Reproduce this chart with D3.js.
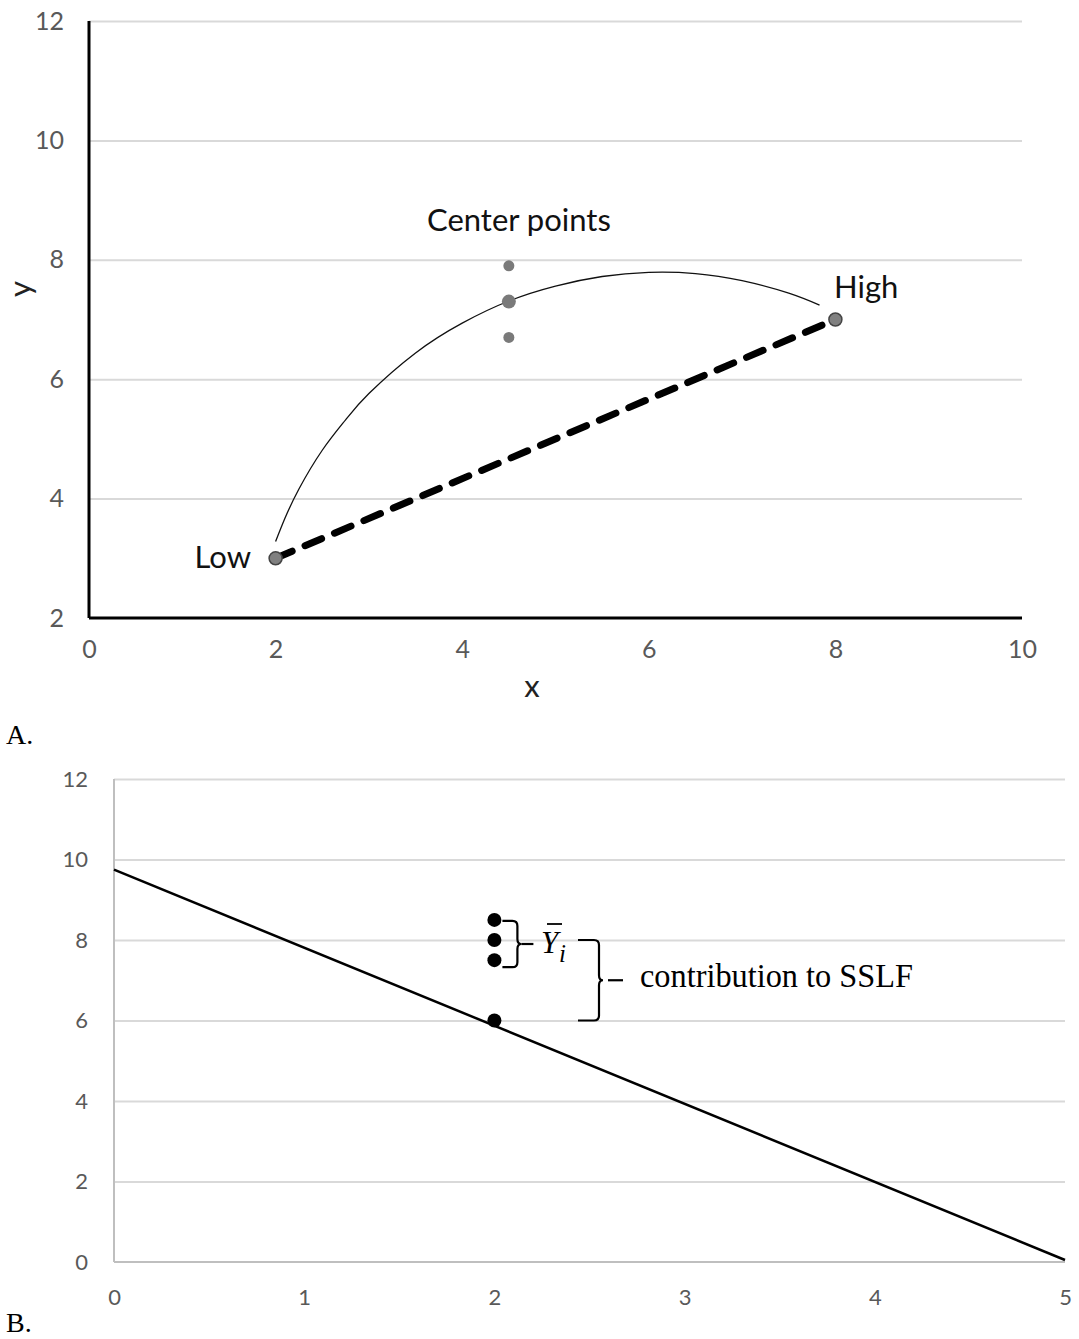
<!DOCTYPE html>
<html>
<head>
<meta charset="utf-8">
<script src="https://cdn.jsdelivr.net/npm/d3@7"></script>
<style>
  body { margin: 0; background: #fff; }
  svg { display: block; }
  .tick text { fill: #595959; font-family: Lato, "Open Sans", sans-serif; }
</style>
</head>
<body>
<svg id="chart" width="1079" height="1339"></svg>
<script>
// ---- panel A data ----
const aXTicks = [0, 2, 4, 6, 8, 10];
const aYTicks = [2, 4, 6, 8, 10, 12];
const aEnds = [{ x: 2, y: 3, label: 'Low' }, { x: 8, y: 7, label: 'High' }];
const aCenterX = 4.5;
const aCenterY = [7.9, 7.3, 6.7];
const aCurve = [[2, 3.28], [2.1, 3.67], [2.25, 4.16], [2.5, 4.81], [2.75, 5.32], [3, 5.76],
  [3.5, 6.44], [4, 6.94], [4.5, 7.31], [5, 7.56], [5.5, 7.72], [6, 7.79], [6.5, 7.77],
  [7, 7.65], [7.5, 7.44], [7.83, 7.24]];

// ---- panel B data ----
const bXTicks = [0, 1, 2, 3, 4, 5];
const bYTicks = [0, 2, 4, 6, 8, 10, 12];
const bPointX = 2;
const bPointY = [8.5, 8.0, 7.5, 6.0];
const bLine = [[0, 9.75], [5, 0.05]];

const svg = d3.select('#chart');
const fmt = d3.format('d');

// ================= panel A =================
const ax = d3.scaleLinear().domain([0, 10]).range([89, 1022]);
const ay = d3.scaleLinear().domain([2, 12]).range([618, 21]);

// gridlines
svg.append('g')
  .attr('transform', 'translate(' + ax(0) + ',0)')
  .call(d3.axisLeft(ay).tickValues(aYTicks.filter(d => d > 2)).tickSize(-(ax(10) - ax(0))).tickFormat(''))
  .call(g => g.select('.domain').remove())
  .call(g => g.selectAll('line').attr('stroke', '#d9d9d9').attr('stroke-width', 2));

// y tick labels
svg.append('g')
  .attr('transform', 'translate(' + ax(0) + ',0)')
  .call(d3.axisLeft(ay).tickValues(aYTicks).tickFormat(fmt).tickSize(0).tickPadding(25))
  .call(g => g.select('.domain').remove())
  .call(g => g.selectAll('text').attr('font-size', 25));

// x tick labels
svg.append('g')
  .attr('transform', 'translate(0,' + ay(2) + ')')
  .call(d3.axisBottom(ax).tickValues(aXTicks).tickFormat(fmt).tickSize(0).tickPadding(22))
  .call(g => g.select('.domain').remove())
  .call(g => g.selectAll('text').attr('font-size', 25));

// axis lines
svg.append('line').attr('x1', ax(0)).attr('x2', ax(0)).attr('y1', ay(12)).attr('y2', ay(2))
  .attr('stroke', '#000').attr('stroke-width', 3);
svg.append('line').attr('x1', ax(0)).attr('x2', ax(10)).attr('y1', ay(2)).attr('y2', ay(2))
  .attr('stroke', '#000').attr('stroke-width', 3);

// axis titles
svg.append('text').attr('x', 532).attr('y', 697).attr('text-anchor', 'middle')
  .attr('font-family', 'Lato, sans-serif').attr('font-size', 31).attr('fill', '#222').text('x');
svg.append('text').attr('transform', 'translate(31,289) rotate(-90)').attr('text-anchor', 'middle')
  .attr('font-family', 'Lato, sans-serif').attr('font-size', 31).attr('fill', '#222').text('y');

// curved line
svg.append('path')
  .datum(aCurve)
  .attr('d', d3.line().x(d => ax(d[0])).y(d => ay(d[1])).curve(d3.curveNatural))
  .attr('fill', 'none').attr('stroke', '#111').attr('stroke-width', 1.3);

// dashed line low -> high
svg.append('path')
  .datum(aEnds)
  .attr('d', d3.line().x(d => ax(d.x)).y(d => ay(d.y)))
  .attr('fill', 'none').attr('stroke', '#000').attr('stroke-width', 7)
  .attr('stroke-dasharray', '18,14').attr('stroke-linecap', 'round');

// end points
svg.selectAll('.endpt').data(aEnds).enter().append('circle')
  .attr('class', 'endpt')
  .attr('cx', d => ax(d.x)).attr('cy', d => ay(d.y)).attr('r', 6.5)
  .attr('fill', '#808080').attr('stroke', '#444').attr('stroke-width', 1.5);

// center points
svg.selectAll('.cpt').data(aCenterY).enter().append('circle')
  .attr('class', 'cpt')
  .attr('cx', ax(aCenterX)).attr('cy', d => ay(d)).attr('r', (d, i) => i === 1 ? 7 : 5.5)
  .attr('fill', '#7a7a7a');

// labels
const aLabelFont = 'Lato, "Open Sans", sans-serif';
svg.append('text').attr('x', 427).attr('y', 231).attr('font-family', aLabelFont)
  .attr('font-size', 31).attr('fill', '#111').text('Center points');
svg.append('text').attr('x', 251).attr('y', 568).attr('text-anchor', 'end').attr('font-family', aLabelFont)
  .attr('font-size', 31).attr('fill', '#111').text(aEnds[0].label);
svg.append('text').attr('x', 834).attr('y', 298).attr('font-family', aLabelFont)
  .attr('font-size', 31).attr('fill', '#111').text(aEnds[1].label);

// panel letters
svg.append('text').attr('x', 6).attr('y', 744).attr('font-family', '"Liberation Serif", serif')
  .attr('font-size', 28).attr('fill', '#000').text('A.');
svg.append('text').attr('x', 6).attr('y', 1332).attr('font-family', '"Liberation Serif", serif')
  .attr('font-size', 28).attr('fill', '#000').text('B.');

// ================= panel B =================
const bx = d3.scaleLinear().domain([0, 5]).range([114, 1065]);
const by = d3.scaleLinear().domain([0, 12]).range([1262, 779]);

svg.append('g')
  .attr('transform', 'translate(' + bx(0) + ',0)')
  .call(d3.axisLeft(by).tickValues(bYTicks.filter(d => d > 0)).tickSize(-(bx(5) - bx(0))).tickFormat(''))
  .call(g => g.select('.domain').remove())
  .call(g => g.selectAll('line').attr('stroke', '#d9d9d9').attr('stroke-width', 2));

svg.append('g')
  .attr('transform', 'translate(' + bx(0) + ',0)')
  .call(d3.axisLeft(by).tickValues(bYTicks).tickFormat(fmt).tickSize(0).tickPadding(26))
  .call(g => g.select('.domain').remove())
  .call(g => g.selectAll('text').attr('font-size', 22));

svg.append('g')
  .attr('transform', 'translate(0,' + by(0) + ')')
  .call(d3.axisBottom(bx).tickValues(bXTicks).tickFormat(fmt).tickSize(0).tickPadding(27))
  .call(g => g.select('.domain').remove())
  .call(g => g.selectAll('text').attr('font-size', 22));

svg.append('line').attr('x1', bx(0)).attr('x2', bx(0)).attr('y1', by(12)).attr('y2', by(0))
  .attr('stroke', '#bfbfbf').attr('stroke-width', 2);
svg.append('line').attr('x1', bx(0)).attr('x2', bx(5)).attr('y1', by(0)).attr('y2', by(0))
  .attr('stroke', '#bfbfbf').attr('stroke-width', 2);

svg.append('path')
  .datum(bLine)
  .attr('d', d3.line().x(d => bx(d[0])).y(d => by(d[1])))
  .attr('fill', 'none').attr('stroke', '#000').attr('stroke-width', 2.5);

svg.selectAll('.bpt').data(bPointY).enter().append('circle')
  .attr('class', 'bpt')
  .attr('cx', bx(bPointX)).attr('cy', d => by(d)).attr('r', 7)
  .attr('fill', '#000');

// curly brace: top y0, bottom y1, left x, width w, tip at the middle
function brace(xl, y0, y1, w, tip) {
  const ym = (y0 + y1) / 2;
  const xr = xl + w;
  const r = 5;
  return 'M' + xl + ',' + y0 +
    ' L' + (xr - r) + ',' + y0 +
    ' Q' + xr + ',' + y0 + ' ' + xr + ',' + (y0 + r) +
    ' L' + xr + ',' + (ym - r) +
    ' Q' + xr + ',' + ym + ' ' + (xr + tip) + ',' + ym +
    ' Q' + xr + ',' + ym + ' ' + xr + ',' + (ym + r) +
    ' L' + xr + ',' + (y1 - r) +
    ' Q' + xr + ',' + y1 + ' ' + (xr - r) + ',' + y1 +
    ' L' + xl + ',' + y1;
}

const p0 = bx(bPointX);
// small brace around the three replicates
const b1top = by(bPointY[0]) + 1, b1bot = by(bPointY[2]) + 7;
svg.append('path').attr('d', brace(p0 + 8, b1top, b1bot, 15, 4))
  .attr('fill', 'none').attr('stroke', '#000').attr('stroke-width', 2.2);
const b1mid = (b1top + b1bot) / 2;
svg.append('line').attr('x1', p0 + 27).attr('x2', p0 + 39).attr('y1', b1mid).attr('y2', b1mid)
  .attr('stroke', '#000').attr('stroke-width', 2.2);

// Y-bar_i label
svg.append('text').attr('x', 541).attr('y', 953)
  .attr('font-family', '"Liberation Serif", serif').attr('font-style', 'italic')
  .attr('font-size', 31).attr('fill', '#000').text('Y');
svg.append('text').attr('x', 559).attr('y', 962)
  .attr('font-family', '"Liberation Serif", serif').attr('font-style', 'italic')
  .attr('font-size', 25).attr('fill', '#000').text('i');
svg.append('line').attr('x1', 547).attr('x2', 562).attr('y1', 924).attr('y2', 924)
  .attr('stroke', '#000').attr('stroke-width', 1.8);

// big brace from mean to fitted point
const b2top = by(bPointY[1]), b2bot = by(bPointY[3]);
svg.append('path').attr('d', brace(578, b2top, b2bot, 21, 4))
  .attr('fill', 'none').attr('stroke', '#000').attr('stroke-width', 2.2);
const b2mid = (b2top + b2bot) / 2;
svg.append('line').attr('x1', 608).attr('x2', 623).attr('y1', b2mid).attr('y2', b2mid)
  .attr('stroke', '#000').attr('stroke-width', 2.2);

svg.append('text').attr('x', 640).attr('y', 987)
  .attr('font-family', '"Liberation Serif", serif').attr('font-size', 33)
  .attr('textLength', 273).attr('lengthAdjust', 'spacingAndGlyphs')
  .attr('fill', '#000').text('contribution to SSLF');
</script>
</body>
</html>
